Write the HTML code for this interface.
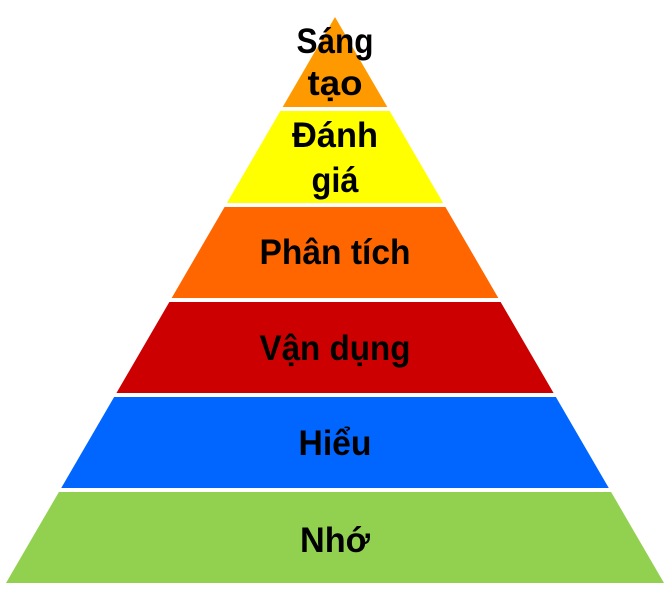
<!DOCTYPE html>
<html><head><meta charset="utf-8"><style>
html,body{margin:0;padding:0;background:#fff;width:669px;height:590px;overflow:hidden}
text{font-family:"Liberation Sans",sans-serif;font-weight:bold;font-size:35px;fill:#000;text-anchor:middle}
</style></head><body>
<svg width="669" height="590" viewBox="0 0 669 590">
<defs><clipPath id="t"><polygon points="335,17 6,583 664,583"/></clipPath></defs>
<g clip-path="url(#t)">
<rect x="0" y="0" width="669" height="107" fill="#ff9900"/>
<rect x="0" y="111" width="669" height="92" fill="#ffff00"/>
<rect x="0" y="207" width="669" height="91" fill="#ff6600"/>
<rect x="0" y="302" width="669" height="91" fill="#cc0000"/>
<rect x="0" y="397" width="669" height="91" fill="#0066ff"/>
<rect x="0" y="492" width="669" height="91" fill="#92d050"/>
</g>
<text x="335" y="53" textLength="77" lengthAdjust="spacingAndGlyphs">Sáng</text>
<text x="335" y="95" textLength="55" lengthAdjust="spacingAndGlyphs">tạo</text>
<text x="335" y="147" textLength="86" lengthAdjust="spacingAndGlyphs">Đánh</text>
<text x="335" y="192" textLength="47" lengthAdjust="spacingAndGlyphs">giá</text>
<text x="335" y="264" textLength="151" lengthAdjust="spacingAndGlyphs">Phân tích</text>
<text x="335" y="360" textLength="151" lengthAdjust="spacingAndGlyphs">Vận dụng</text>
<text x="335" y="455" textLength="73" lengthAdjust="spacingAndGlyphs">Hiểu</text>
<text x="335" y="552" textLength="70" lengthAdjust="spacingAndGlyphs">Nhớ</text>
</svg>
</body></html>
